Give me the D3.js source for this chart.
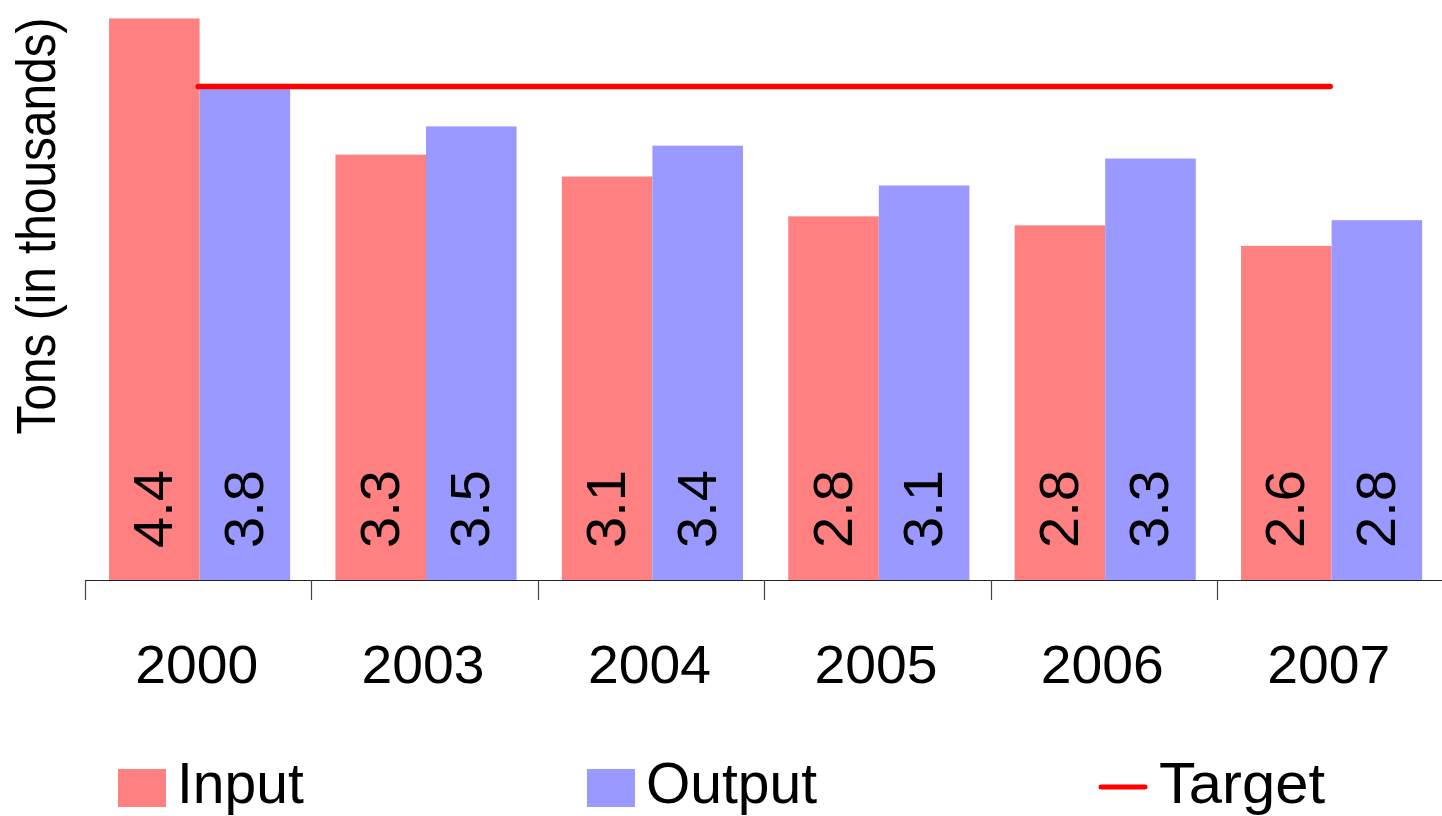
<!DOCTYPE html>
<html>
<head>
<meta charset="utf-8">
<script src="https://cdn.jsdelivr.net/npm/d3@7"></script>
<style>
  html, body { margin: 0; padding: 0; background: #fff; }
  svg { display: block; }
  text { font-family: "Liberation Sans", Arial, sans-serif; fill: #000; }
</style>
</head>
<body>
<svg id="chart" width="1442" height="816"></svg>
<script>
// ---- data ----
const categories = ["2000", "2003", "2004", "2005", "2006", "2007"];
const seriesNames = ["Input", "Output"];
const inputValues = [4.37, 3.31, 3.14, 2.83, 2.76, 2.60];
const outputValues = [3.82, 3.53, 3.38, 3.07, 3.28, 2.80];
const targetValue = 3.84;
const yLabel = "Tons (in thousands)";
const legendLabels = ["Input", "Output", "Target"];

const colors = { Input: "#ff8080", Output: "#9999ff", Target: "#ff0000" };

// ---- layout ----
const W = 1442, H = 816;
const baseY = 580;
const pxPerUnit = 128.5;
const yMax = 4.5;
const x0Left = 85, bandW = 226.4;

const svg = d3.select("#chart");

const x0 = d3.scaleBand()
  .domain(categories)
  .range([x0Left, x0Left + bandW * categories.length])
  .padding(0);

const x1 = d3.scaleBand()
  .domain(seriesNames)
  .range([0, x0.bandwidth()])
  .paddingInner(0)
  .paddingOuter(0.25);

const y = d3.scaleLinear()
  .domain([0, yMax])
  .range([baseY, baseY - pxPerUnit * yMax]);

const rows = categories.map((c, i) => ({
  cat: c,
  vals: [
    { key: "Input", value: inputValues[i] },
    { key: "Output", value: outputValues[i] }
  ]
}));

const fmt = d3.format(".1f");

// bars
const groups = svg.append("g").selectAll("g")
  .data(rows).join("g")
  .attr("transform", d => `translate(${x0(d.cat) + 1.4},0)`);

groups.selectAll("rect")
  .data(d => d.vals).join("rect")
  .attr("x", d => x1(d.key))
  .attr("width", x1.bandwidth())
  .attr("y", d => y(d.value))
  .attr("height", d => y(0) - y(d.value))
  .attr("fill", d => colors[d.key]);

// value labels (rotated)
groups.selectAll("text")
  .data(d => d.vals).join("text")
  .attr("transform", d => `translate(${x1(d.key) + x1.bandwidth() / 2 + 18},548) rotate(-90)`)
  .attr("text-anchor", "start")
  .attr("font-size", 56)
  .text(d => fmt(d.value));

// target line
svg.append("line")
  .attr("x1", x0(categories[0]) + x0.bandwidth() / 2)
  .attr("x2", x0(categories[categories.length - 1]) + x0.bandwidth() / 2)
  .attr("y1", y(targetValue))
  .attr("y2", y(targetValue))
  .attr("stroke", colors.Target)
  .attr("stroke-width", 5.5)
  .attr("stroke-linecap", "round");

// x axis
const axisG = svg.append("g");
axisG.append("line")
  .attr("x1", x0.range()[0]).attr("x2", W)
  .attr("y1", baseY + 0.5).attr("y2", baseY + 0.5)
  .attr("stroke", "#222").attr("stroke-width", 1.2);
axisG.selectAll("line.tick")
  .data(categories).join("line")
  .attr("class", "tick")
  .attr("x1", d => Math.round(x0(d)) + 0.5)
  .attr("x2", d => Math.round(x0(d)) + 0.5)
  .attr("y1", baseY).attr("y2", baseY + 20)
  .attr("stroke", "#444").attr("stroke-width", 1.2);
axisG.selectAll("text")
  .data(categories).join("text")
  .attr("x", d => x0(d) + x0.bandwidth() / 2 - 1.5)
  .attr("y", 683)
  .attr("text-anchor", "middle")
  .attr("font-size", 54)
  .attr("textLength", 123)
  .attr("lengthAdjust", "spacingAndGlyphs")
  .text(d => d);

// y label (glyphs widened across the text direction)
svg.append("text")
  .attr("transform", "translate(55,226) scale(1.16,1) rotate(-90)")
  .attr("text-anchor", "middle")
  .attr("font-size", 47.8)
  .text(yLabel);

// legend
const legend = svg.append("g");
const legendX = [118, 587, 1099];
const legendTextLen = [null, null, 166];
legendLabels.forEach((name, i) => {
  const g = legend.append("g").attr("transform", `translate(${legendX[i]},0)`);
  if (name === "Target") {
    g.append("line")
      .attr("x1", 2).attr("x2", 46)
      .attr("y1", 787).attr("y2", 787)
      .attr("stroke", colors.Target)
      .attr("stroke-width", 5)
      .attr("stroke-linecap", "round");
  } else {
    g.append("rect")
      .attr("x", 0).attr("y", 769)
      .attr("width", 48).attr("height", 38)
      .attr("fill", colors[name]);
  }
  const t = g.append("text")
    .attr("x", name === "Target" ? 60 : 59)
    .attr("y", 803)
    .attr("font-size", 57)
    .text(name);
  if (legendTextLen[i]) {
    t.attr("textLength", legendTextLen[i]).attr("lengthAdjust", "spacingAndGlyphs");
  }
});
</script>
</body>
</html>
